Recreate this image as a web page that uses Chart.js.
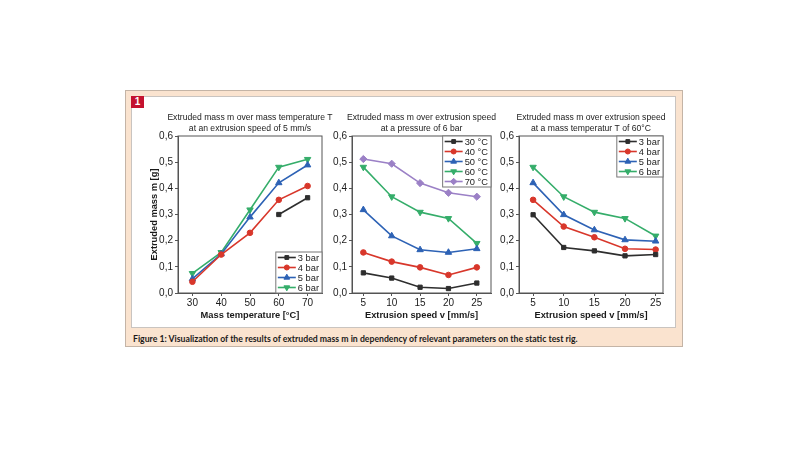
<!DOCTYPE html>
<html>
<head>
  <meta charset="utf-8">
  <script src="https://cdn.jsdelivr.net/npm/chart.js"></script>
  <style>
    body { margin: 0; width: 800px; height: 450px; background: #fff; position: relative; font-family: "Liberation Sans", Arial, sans-serif; }
    .outer { position: absolute; left: 125px; top: 90px; width: 556px; height: 255px; background: #fae3cf; border: 1px solid #c4b4a6; }
    .inner { position: absolute; left: 131px; top: 96px; width: 543px; height: 230px; background: #fff; border: 1px solid #c9c4c0; }
    .badge { position: absolute; left: 131px; top: 96px; width: 13px; height: 12px; background: #c4122f; color: #fff; font: bold 10px "Liberation Sans", Arial, sans-serif; text-align: center; line-height: 12px; }
    .caption { position: absolute; left: 133px; top: 333px; font: bold 8.7px Lato, "Noto Sans", sans-serif; color: #1a1a1a; white-space: nowrap; }
    canvas { position: absolute; }
  </style>
</head>
<body>
  <div class="outer"></div>
  <div class="inner"></div>
  <div class="badge">1</div>
  <div class="caption">Figure 1: Visualization of the results of extruded mass m in dependency of relevant parameters on the static test rig.</div>

  <canvas id="c1" style="left:133px; top:108px; width:205px; height:216px"></canvas>
  <canvas id="c2" style="left:328px; top:108px; width:168px; height:216px"></canvas>
  <canvas id="c3" style="left:496px; top:108px; width:173px; height:216px"></canvas>

  <script>
    // x values and tick labels
    const massTemps = [30, 40, 50, 60, 70];
    const speeds = [5, 10, 15, 20, 25];
    const yTicks = [0, 0.1, 0.2, 0.3, 0.4, 0.5, 0.6];

    // chart 1: mass over mass temperature, 5 mm/s
    const pressureLabels = ['3 bar', '4 bar', '5 bar', '6 bar'];
    const temp3bar = [null, null, null, 0.30, 0.364];
    const temp4bar = [0.043, 0.147, 0.23, 0.356, 0.409];
    const temp5bar = [0.054, 0.149, 0.29, 0.421, 0.489];
    const temp6bar = [0.075, 0.155, 0.318, 0.481, 0.511];

    // chart 2: mass over speed, 6 bar
    const tempLabels = ['30 °C', '40 °C', '50 °C', '60 °C', '70 °C'];
    const speed30C = [0.077, 0.057, 0.022, 0.017, 0.038];
    const speed40C = [0.155, 0.12, 0.098, 0.069, 0.098];
    const speed50C = [0.318, 0.218, 0.165, 0.155, 0.169];
    const speed60C = [0.481, 0.368, 0.309, 0.285, 0.19];
    const speed70C = [0.512, 0.494, 0.42, 0.383, 0.368];

    // chart 3: mass over speed, 60 °C
    const speed3bar = [0.299, 0.174, 0.161, 0.142, 0.147];
    const speed4bar = [0.356, 0.254, 0.213, 0.169, 0.166];
    const speed5bar = [0.421, 0.299, 0.241, 0.203, 0.198];
    const speed6bar = [0.481, 0.368, 0.309, 0.285, 0.218];

    const styles = [
      { color: '#2e2e2e', pointStyle: 'rect', rotation: 0, radius: 3 },
      { color: '#d8372b', pointStyle: 'circle', rotation: 0, radius: 2.8 },
      { color: '#2d62b5', pointStyle: 'triangle', rotation: 0, radius: 3.7 },
      { color: '#35ad6a', pointStyle: 'triangle', rotation: 180, radius: 3.7 },
      { color: '#9b80c6', pointStyle: 'rectRot', rotation: 0, radius: 3.6 }
    ];

    const FONT = '"Liberation Sans", Arial, sans-serif';

    function makeSets(xs, series, labels) {
      return series.map((vals, i) => {
        const s = styles[i];
        return {
          label: labels[i],
          data: xs.map((x, j) => ({ x: x, y: vals[j] })),
          borderColor: s.color,
          backgroundColor: s.color,
          borderWidth: 1.6,
          pointStyle: s.pointStyle,
          rotation: s.rotation,
          pointRadius: s.radius,
          pointBorderWidth: 1,
          spanGaps: false
        };
      });
    }

    // title centred on the plot, frame round the plot, legend box inside it
    const framePlugin = {
      id: 'frameLegend',
      afterDatasetsDraw(chart, args, opts) {
        const ctx = chart.ctx;
        const a = chart.chartArea;
        ctx.save();
        ctx.strokeStyle = '#555';
        ctx.lineWidth = 1;
        ctx.strokeRect(a.left, a.top, a.right - a.left, a.bottom - a.top);

        ctx.fillStyle = '#222';
        ctx.font = '8.6px ' + FONT;
        ctx.textAlign = 'center';
        ctx.textBaseline = 'middle';
        const mid = (a.left + a.right) / 2;
        opts.title.forEach((line, i) => ctx.fillText(line, mid, 9.5 + i * 11));

        const sets = chart.data.datasets;
        const rowH = 10;
        ctx.font = '9.3px ' + FONT;
        let textW = 0;
        sets.forEach(d => { textW = Math.max(textW, ctx.measureText(d.label).width); });
        const boxW = 23 + textW + 2;
        const boxH = sets.length * rowH + 1;
        const bx = a.right - boxW;
        const by = opts.corner === 'br' ? a.bottom - boxH : a.top;
        ctx.fillStyle = '#fff';
        ctx.fillRect(bx, by, boxW, boxH);
        ctx.strokeStyle = '#777';
        ctx.strokeRect(bx, by, boxW, boxH);
        sets.forEach((d, i) => {
          const cy = by + 5.5 + i * rowH;
          ctx.strokeStyle = d.borderColor;
          ctx.lineWidth = 1.6;
          ctx.beginPath();
          ctx.moveTo(bx + 2, cy);
          ctx.lineTo(bx + 20, cy);
          ctx.stroke();
          ctx.fillStyle = d.backgroundColor;
          ctx.lineWidth = 1;
          Chart.helpers.drawPoint(ctx, {
            pointStyle: d.pointStyle, rotation: d.rotation,
            radius: d.pointRadius * 0.9, borderWidth: 1
          }, bx + 11, cy);
          ctx.fillStyle = '#222';
          ctx.textBaseline = 'middle';
          ctx.textAlign = 'left';
          ctx.fillText(d.label, bx + 22, cy + 0.5);
        });
        ctx.restore();
      }
    };

    function makeChart(id, cfg) {
      return new Chart(document.getElementById(id), {
        type: 'line',
        data: { datasets: makeSets(cfg.xs, cfg.series, cfg.labels) },
        plugins: [framePlugin],
        options: {
          responsive: false,
          animation: false,
          layout: { padding: { left: 0, right: cfg.padRight, top: 28, bottom: 0 } },
          plugins: {
            legend: { display: false },
            tooltip: { enabled: false },
            title: { display: false },
            frameLegend: { corner: cfg.corner, title: cfg.title }
          },
          scales: {
            x: {
              type: 'linear',
              min: cfg.xMin,
              max: cfg.xMax,
              afterBuildTicks: s => { s.ticks = cfg.xs.map(v => ({ value: v })); },
              afterFit: s => { s.height = 31; },
              grid: { drawOnChartArea: false, tickLength: 3, color: '#555' },
              border: { color: '#555' },
              ticks: { color: '#1a1a1a', font: { family: FONT, size: 10 }, padding: 1, maxRotation: 0 },
              title: {
                display: true,
                text: cfg.xTitle,
                color: '#1a1a1a',
                font: { family: FONT, size: 9.3, weight: 'bold' },
                padding: { top: 2, bottom: 3 }
              }
            },
            y: {
              min: 0,
              max: 0.6,
              afterBuildTicks: s => { s.ticks = yTicks.map(v => ({ value: v })); },
              afterFit: s => { s.width = cfg.yWidth; },
              grid: { drawOnChartArea: false, tickLength: 3, color: '#555' },
              border: { color: '#555' },
              ticks: {
                color: '#1a1a1a',
                font: { family: FONT, size: 10 },
                padding: 2,
                callback: v => v.toFixed(1).replace('.', ',')
              },
              title: {
                display: cfg.yTitle !== '',
                text: cfg.yTitle,
                color: '#1a1a1a',
                font: { family: FONT, size: 9.3, weight: 'bold' },
                padding: { top: 16, bottom: 0 }
              }
            }
          }
        }
      });
    }

    makeChart('c1', {
      xs: massTemps, xMin: 25, xMax: 75,
      series: [temp3bar, temp4bar, temp5bar, temp6bar],
      labels: pressureLabels,
      title: ['Extruded mass m over mass temperature T', 'at an extrusion speed of 5 mm/s'],
      xTitle: 'Mass temperature [°C]',
      yTitle: 'Extruded mass m [g]',
      yWidth: 45, padRight: 16, corner: 'br'
    });

    makeChart('c2', {
      xs: speeds, xMin: 3, xMax: 27.5,
      series: [speed30C, speed40C, speed50C, speed60C, speed70C],
      labels: tempLabels,
      title: ['Extruded mass m over extrusion speed', 'at a pressure of 6 bar'],
      xTitle: 'Extrusion speed v [mm/s]',
      yTitle: '',
      yWidth: 24, padRight: 4, corner: 'tr'
    });

    makeChart('c3', {
      xs: speeds, xMin: 2.7, xMax: 26.2,
      series: [speed3bar, speed4bar, speed5bar, speed6bar],
      labels: pressureLabels,
      title: ['Extruded mass m over extrusion speed', 'at a mass temperatur T of 60°C'],
      xTitle: 'Extrusion speed v [mm/s]',
      yTitle: '',
      yWidth: 23, padRight: 6, corner: 'tr'
    });
  </script>
</body>
</html>
